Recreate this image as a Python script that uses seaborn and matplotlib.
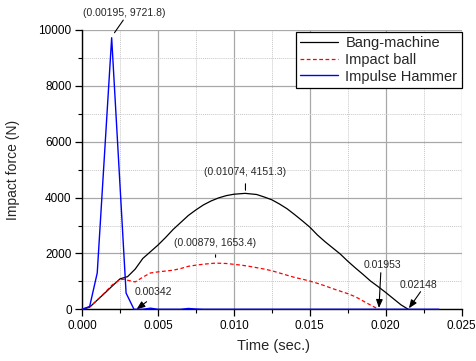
import matplotlib
matplotlib.use("Agg")
import matplotlib.pyplot as plt
import matplotlib.ticker as mticker
import seaborn as sns
import pandas as pd

# ---- data ----
bang_t = [0, 0.0005, 0.001, 0.0015, 0.002, 0.0025, 0.003, 0.0035, 0.004, 0.0045, 0.005,
          0.0055, 0.006, 0.0065, 0.007, 0.0075, 0.008, 0.0085, 0.009, 0.0095, 0.010,
          0.01074, 0.0115, 0.012, 0.0125, 0.013, 0.0135, 0.014, 0.0145, 0.015, 0.0155,
          0.016, 0.0165, 0.017, 0.0175, 0.018, 0.0185, 0.019, 0.0195, 0.020, 0.0205,
          0.021, 0.02148]
bang_f = [0, 75, 330, 580, 840, 1090, 1170, 1440, 1820, 2060, 2300,
          2570, 2860, 3110, 3360, 3560, 3740, 3880, 3990, 4070, 4120,
          4151.3, 4110, 4020, 3920, 3770, 3600, 3390, 3170, 2940, 2660,
          2420, 2200, 1980, 1720, 1480, 1250, 1010, 810, 600, 380,
          160, 0]

ball_t = [0, 0.0005, 0.001, 0.0015, 0.002, 0.0025, 0.0028, 0.003, 0.0035, 0.004, 0.0045,
          0.005, 0.0055, 0.006, 0.0065, 0.007, 0.0075, 0.008, 0.0085, 0.00879, 0.0095,
          0.010, 0.0105, 0.011, 0.0115, 0.012, 0.0125, 0.013, 0.0135, 0.014, 0.0145,
          0.015, 0.0155, 0.016, 0.0165, 0.017, 0.0175, 0.018, 0.0185, 0.019, 0.01953]
ball_f = [0, 90, 330, 600, 880, 1060, 1080, 1040, 980, 1150, 1300,
          1340, 1370, 1400, 1460, 1540, 1580, 1615, 1640, 1653.4, 1640,
          1610, 1580, 1540, 1490, 1440, 1380, 1300, 1220, 1140, 1080,
          1010, 930, 840, 740, 650, 560, 450, 300, 150, 0]

ham_t = [0, 0.0005, 0.001, 0.00195, 0.0029, 0.00342, 0.0040, 0.0045, 0.0050, 0.0065,
         0.0070, 0.0075, 0.0080, 0.0120, 0.0160, 0.0200, 0.0235]
ham_f = [0, 100, 1300, 9721.8, 580, 0, 0, 40, 0, 0,
         30, 10, 0, 0, 0, 0, 0]

series_names = ["Bang-machine", "Impact ball", "Impulse Hammer"]

# ---- figure ----
sns.set_style("ticks")
plt.rcParams["font.family"] = ["Liberation Sans", "DejaVu Sans"]

fig = plt.figure(figsize=(4.77, 3.61), dpi=100)
ax = fig.add_axes([0.172, 0.1432, 0.796, 0.7737])

df_bang = pd.DataFrame({"t": bang_t, "f": bang_f})
df_ball = pd.DataFrame({"t": ball_t, "f": ball_f})
df_ham = pd.DataFrame({"t": ham_t, "f": ham_f})

sns.lineplot(data=df_bang, x="t", y="f", ax=ax, color="black", lw=0.9,
             label=series_names[0], sort=False, clip_on=False, zorder=3)
sns.lineplot(data=df_ball, x="t", y="f", ax=ax, color="red", lw=0.9,
             label=series_names[1], sort=False, clip_on=False, zorder=3)
ax.lines[-1].set_dashes([3, 2])
sns.lineplot(data=df_ham, x="t", y="f", ax=ax, color="blue", lw=1.0,
             label=series_names[2], sort=False, clip_on=False, zorder=4)

ax.set_xlim(0, 0.025)
ax.set_ylim(0, 10000)
ax.xaxis.set_major_locator(mticker.MultipleLocator(0.005))
ax.xaxis.set_minor_locator(mticker.MultipleLocator(0.0025))
ax.yaxis.set_major_locator(mticker.MultipleLocator(2000))
ax.yaxis.set_minor_locator(mticker.MultipleLocator(1000))
ax.xaxis.set_major_formatter(mticker.FormatStrFormatter("%.3f"))

ax.grid(which="major", color="#a8a8a8", lw=0.9, ls="-", zorder=0)
ax.grid(which="minor", color="#c8c8c8", lw=0.7, ls=(0, (1, 1)), zorder=0)
ax.set_axisbelow(True)

for s in ["top", "right"]:
    ax.spines[s].set_visible(False)
for s in ["left", "bottom"]:
    ax.spines[s].set_color("black")
    ax.spines[s].set_linewidth(1.0)
    ax.spines[s].set_zorder(2)

ax.tick_params(which="major", direction="out", length=5, width=0.9, colors="black",
               labelsize=8.5, pad=2.5)
ax.tick_params(which="minor", direction="out", length=3, width=0.8, colors="black")

ax.set_xlabel("Time (sec.)", fontsize=10.5)
ax.set_ylabel("Impact force (N)", fontsize=10)
ax.xaxis.set_label_coords(0.504, -0.108)
ax.yaxis.set_label_coords(-0.163, 0.499)

leg = ax.legend(loc="upper right", bbox_to_anchor=(1.0, 0.993), borderaxespad=0,
                fontsize=10.5, frameon=True, fancybox=False, handlelength=2.6,
                borderpad=0.3, labelspacing=0.18, handletextpad=0.5)
leg.get_frame().set_edgecolor("black")
leg.get_frame().set_linewidth(0.9)
leg.get_frame().set_alpha(1)

# ---- annotations ----
af = 7.5
ax.text(0.00276, 10616, "(0.00195, 9721.8)", fontsize=af, ha="center", va="center", clip_on=False)
ax.annotate("", xy=(0.00203, 9820), xytext=(0.00282, 10436),
            arrowprops=dict(arrowstyle="-", color="black", lw=0.8), annotation_clip=False)

ax.text(0.01076, 4915, "(0.01074, 4151.3)", fontsize=af, ha="center", va="center")
ax.annotate("", xy=(0.01076, 4164), xytext=(0.01076, 4593),
            arrowprops=dict(arrowstyle="-", color="black", lw=0.8))

ax.text(0.00879, 2373, "(0.00879, 1653.4)", fontsize=af, ha="center", va="center")
ax.annotate("", xy=(0.00879, 1765), xytext=(0.00879, 2051),
            arrowprops=dict(arrowstyle="-", color="black", lw=0.8))

arrow = dict(arrowstyle="-|>,head_length=0.5,head_width=0.2", color="black", lw=0.8,
             shrinkA=0, shrinkB=0)
ax.text(0.00472, 619, "0.00342", fontsize=af, ha="center", va="center")
ax.annotate("", xy=(0.00359, 0), xytext=(0.00425, 272), arrowprops=arrow, annotation_clip=False)

ax.text(0.01975, 1586, "0.01953", fontsize=af, ha="center", va="center")
ax.annotate("", xy=(0.01955, 47), xytext=(0.01967, 1310), arrowprops=arrow)

ax.text(0.02218, 870, "0.02148", fontsize=af, ha="center", va="center")
ax.annotate("", xy=(0.02152, 36), xytext=(0.02229, 630), arrowprops=arrow)

fig.savefig("out.png", dpi=100)
